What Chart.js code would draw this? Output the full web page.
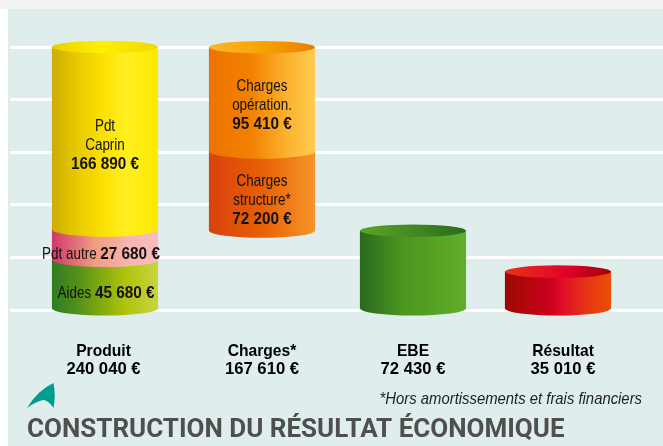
<!DOCTYPE html>
<html><head><meta charset="utf-8">
<style>
html,body{margin:0;padding:0;background:#fff;overflow:hidden}
#strip{position:absolute;left:0;top:0;width:663px;height:9px;background:#f3f3f3}
#panel{position:absolute;left:8px;top:9px;width:655px;height:437px;background:#dfeeed}
canvas{position:absolute;left:0;top:0}
</style>
<script src="https://cdn.jsdelivr.net/npm/chart.js@4"></script>
</head><body>
<div id="strip"></div><div id="panel"></div>
<canvas id="c" width="663" height="446"></canvas>
<script>
const categories = ['Produit', 'Charges*', 'EBE', 'Résultat'];
const totals = [240040, 167610, 72430, 35010];
const aides = 45680;
const pdtAutre = 27680;
const pdtCaprin = 166890;
const chargesStructure = 72200;
const chargesOperation = 95410;
const ebe = 72430;
const resultat = 35010;
const gridValues = [0, 48000, 96000, 144000, 192000, 240000];
const axisMax = 264000;
const title = 'CONSTRUCTION DU RÉSULTAT ÉCONOMIQUE';
const footnote = '*Hors amortissements et frais financiers';

// Layout: the columns are not evenly spaced in the reference, so x is a linear axis.
const barX = [105, 262, 413, 558];
const labelX = [103.5, 262, 413, 563];
const BAR_W = 105.5, RY = 7, FONT = '"Liberation Sans",Arial,sans-serif';
const eur = v => String(v).replace(/\B(?=(\d{3})+$)/g, ' ') + ' €';

const G = {
  aides: ['#2e7d22 0', '#55911a .25', '#7fa80e .45', '#b0c40c .7', '#c9d43e 1'],
  autre: ['#d0386c 0', '#f09c80 .4', '#f8b6b4 .75', '#f9bcc0 1'],
  caprin: ['#ccac00 0', '#e6c800 .22', '#fade00 .45', '#ffef20 .7', '#ffe900 1'],
  structure: ['#d9420f 0', '#e85f04 .5', '#f59628 1'],
  operation: ['#ee7200 0', '#f28200 .4', '#fbb02c .72', '#ffcc50 1'],
  ebe: ['#2a6a1e 0', '#4c961e .4', '#60ae2a 1'],
  resultat: ['#9a0a00 0', '#d00020 .45', '#e0102a .55', '#e8380f .8', '#e85008 1'],
  lidCaprin: ['#e8cf00 0', '#fff000 .45', '#f0d800 1'],
  lidOperation: ['#fdb52e 0', '#f7a400 .5', '#ee7a00 1'],
  lidEbe: ['#5aa526 0', '#4a8f22 .4', '#2a6a1e 1'],
  lidResultat: ['#e8341a 0', '#e0002a .6', '#a0000a 1']
};
function grad(ctx, cx, stops) {
  const g = ctx.createLinearGradient(cx - BAR_W / 2, 0, cx + BAR_W / 2, 0);
  stops.forEach(s => { const [c, o] = s.split(' '); g.addColorStop(+o, c); });
  return g;
}
function ds(col, value, key, lid, lines, dx, dy) {
  return { data: [{ x: barX[col], y: value }], seg: key, lid, lines, dx: dx || 0, dy: dy || 0,
    backgroundColor: c => grad(c.chart.ctx, barX[col], G[key]) };
}
const datasets = [
  ds(0, aides, 'aides', null, [[['Aides ', 0], [eur(aides), 1]]], 1, 3),
  ds(0, pdtAutre, 'autre', null, [[['Pdt autre ', 0], [eur(pdtAutre), 1]]], -4, 3),
  ds(0, pdtCaprin, 'caprin', 'lidCaprin', [[['Pdt', 0]], [['Caprin', 0]], [[eur(pdtCaprin), 1]]]),
  { data: [{ x: barX[1], y: ebe }], backgroundColor: 'rgba(0,0,0,0)', spacer: true },
  ds(1, chargesStructure, 'structure', null, [[['Charges', 0]], [['structure*', 0]], [[eur(chargesStructure), 1]]], 0, 3),
  ds(1, chargesOperation, 'operation', 'lidOperation', [[['Charges', 0]], [['opération.', 0]], [[eur(chargesOperation), 1]]], 0, -1),
  ds(2, ebe, 'ebe', 'lidEbe', []),
  ds(3, resultat, 'resultat', 'lidResultat', [])
];

// The reference face is condensed and no condensed face is installed: squeeze horizontally.
function squeezed(ctx, text, x, y, sx) {
  ctx.save(); ctx.translate(x, y); ctx.scale(sx, 1); ctx.fillText(text, 0, 0); ctx.restore();
}
const REG = 0.79, BOLD = 0.9;

const cylinder = {
  id: 'cylinder',
  afterDatasetsDraw(chart) {
    const ctx = chart.ctx;
    ctx.save();
    chart.data.datasets.forEach((d, i) => {
      if (d.spacer) return;
      const el = chart.getDatasetMeta(i).data[0];
      ctx.fillStyle = grad(ctx, el.x, G[d.seg]);
      ctx.beginPath();
      ctx.rect(el.x - el.width / 2, el.base - 1.5, el.width, 1.5);
      ctx.ellipse(el.x, el.base, el.width / 2, RY, 0, 0, Math.PI);
      ctx.fill();
      if (d.lid) {
        ctx.fillStyle = grad(ctx, el.x, G[d.lid]);
        ctx.beginPath(); ctx.ellipse(el.x, el.y, el.width / 2, RY - 0.7, 0, 0, Math.PI * 2); ctx.fill();
      }
    });
    ctx.fillStyle = '#111'; ctx.textBaseline = 'middle'; ctx.textAlign = 'left';
    const fontOf = b => (b ? 'bold ' : '') + '17px ' + FONT;
    chart.data.datasets.forEach((d, i) => {
      if (d.spacer || !d.lines.length) return;
      const el = chart.getDatasetMeta(i).data[0];
      const cy = (el.y + el.base) / 2 + 6.5 + d.dy, n = d.lines.length;
      d.lines.forEach((runs, k) => {
        let w = 0;
        const width = r => { ctx.font = fontOf(r[1]); return ctx.measureText(r[0]).width * (r[1] ? BOLD : REG); };
        runs.forEach(r => { w += width(r); });
        let x = el.x + d.dx - w / 2;
        const y = cy + (k - (n - 1) / 2) * 19;
        runs.forEach(r => { const rw = width(r); squeezed(ctx, r[0], x, y, r[1] ? BOLD : REG); x += rw; });
      });
    });
    // axis category labels, from the x scale's own ticks
    const xs = chart.scales.x;
    ctx.fillStyle = '#000'; ctx.textAlign = 'center'; ctx.font = 'bold 17px ' + FONT;
    xs.ticks.forEach(t => {
      const px = xs.getPixelForValue(t.value);
      squeezed(ctx, t.label[0], px, 351, 0.92);
      squeezed(ctx, t.label[1], px, 369.5, 0.98);
    });
    // footnote
    ctx.font = 'italic 16.5px ' + FONT; ctx.fillStyle = '#222'; ctx.textAlign = 'right';
    squeezed(ctx, footnote, 642, 399, 0.9);
    // logo mark
    ctx.fillStyle = '#009d8f';
    ctx.beginPath(); ctx.moveTo(27, 408); ctx.quadraticCurveTo(38, 390, 53.5, 383);
    ctx.quadraticCurveTo(56, 396, 53.5, 408); ctx.quadraticCurveTo(48, 400, 43, 400);
    ctx.quadraticCurveTo(35, 402, 27, 408); ctx.fill();
    // title
    ctx.font = 'bold 26px Roboto, sans-serif'; ctx.fillStyle = '#4f4f4f'; ctx.textAlign = 'left';
    ctx.fillText(title, 27, 430.5);
    ctx.restore();
  }
};

new Chart(document.getElementById('c'), {
  type: 'bar',
  data: { labels: categories, datasets },
  plugins: [cylinder],
  options: {
    responsive: false, animation: false, events: [],
    layout: { padding: { left: 10, right: 0, top: 21, bottom: 0 } },
    barThickness: BAR_W,
    plugins: { legend: { display: false }, tooltip: { enabled: false }, title: { display: false } },
    scales: {
      x: {
        type: 'linear', offset: false, bounds: 'data', stacked: true, min: 10, max: 663,
        grid: { display: false, drawTicks: false }, border: { display: false },
        afterBuildTicks: s => { s.ticks = labelX.map(value => ({ value })); },
        afterFit: s => { s.height = 136; },
        ticks: {
          display: false, autoSkip: false,
          callback: (v, i) => [categories[i], eur(totals[i])]
        }
      },
      y: {
        stacked: true, bounds: 'data', min: 0, max: axisMax,
        grid: { color: '#fff', lineWidth: 3, drawTicks: false }, border: { display: false },
        afterBuildTicks: s => { s.ticks = gridValues.map(value => ({ value })); },
        afterFit: s => { s.width = 0; },
        ticks: { display: false }
      }
    }
  }
});
</script>
</body></html>
